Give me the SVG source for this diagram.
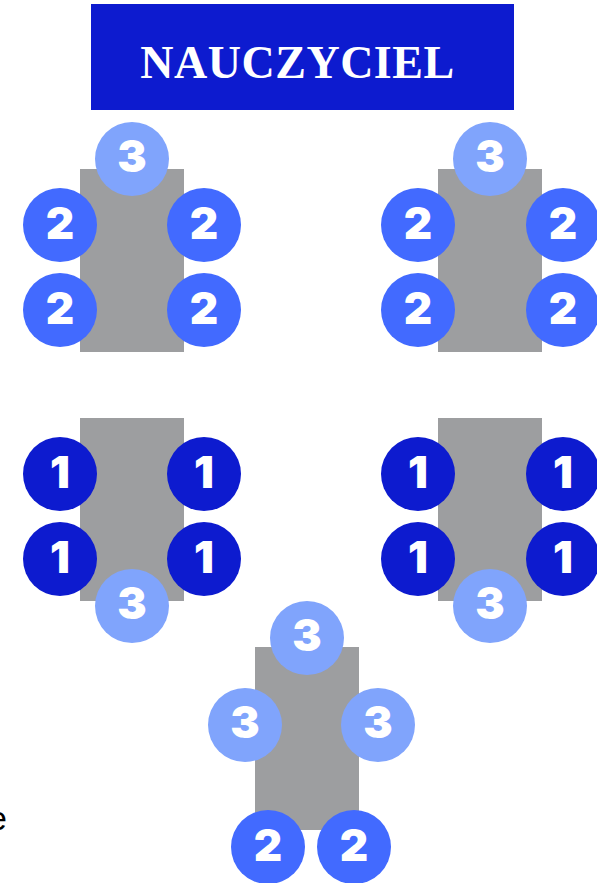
<svg xmlns="http://www.w3.org/2000/svg" width="597" height="883" viewBox="0 0 597 883">
<defs>
<style>
.tbl{fill:#9D9EA0}
.c1{fill:#0D1BCF}
.c2{fill:#426AFF}
.c3{fill:#80A4FC}
.n{font-family:Inter,"Liberation Sans",sans-serif;font-weight:900;font-size:44px;fill:#fff;text-anchor:middle}
</style>
</defs>
<rect width="597" height="883" fill="#fff"/>
<g id="header">
<rect x="91" y="4" width="423" height="106" fill="#0D1BCF"/>
<text x="297.5" y="78" font-family="'Liberation Serif',serif" font-weight="bold" font-size="46" fill="#fff" text-anchor="middle" letter-spacing="0.5">NAUCZYCIEL</text>
</g>
<g id="table-top-left">
<rect class="tbl" x="80" y="169" width="104" height="183"/>
<circle class="c3" cx="132" cy="159" r="37"/><text class="n" x="132" y="172">3</text>
<circle class="c2" cx="60" cy="225" r="37"/><text class="n" x="60" y="239">2</text>
<circle class="c2" cx="204" cy="225" r="37"/><text class="n" x="204" y="239">2</text>
<circle class="c2" cx="60" cy="310" r="37"/><text class="n" x="60" y="324">2</text>
<circle class="c2" cx="204" cy="310" r="37"/><text class="n" x="204" y="324">2</text>
</g>
<g id="table-top-right">
<rect class="tbl" x="438" y="169" width="104" height="183"/>
<circle class="c3" cx="490" cy="159" r="37"/><text class="n" x="490" y="172">3</text>
<circle class="c2" cx="418" cy="225" r="37"/><text class="n" x="418" y="239">2</text>
<circle class="c2" cx="563" cy="225" r="37"/><text class="n" x="563" y="239">2</text>
<circle class="c2" cx="418" cy="310" r="37"/><text class="n" x="418" y="324">2</text>
<circle class="c2" cx="563" cy="310" r="37"/><text class="n" x="563" y="324">2</text>
</g>
<g id="table-mid-left">
<rect class="tbl" x="80" y="418" width="104" height="183"/>
<circle class="c1" cx="60" cy="474" r="37"/><text class="n" x="60" y="488">1</text>
<circle class="c1" cx="204" cy="474" r="37"/><text class="n" x="204" y="488">1</text>
<circle class="c1" cx="60" cy="559" r="37"/><text class="n" x="60" y="573">1</text>
<circle class="c1" cx="204" cy="559" r="37"/><text class="n" x="204" y="573">1</text>
<circle class="c3" cx="132" cy="606" r="37"/><text class="n" x="132" y="619">3</text>
</g>
<g id="table-mid-right">
<rect class="tbl" x="438" y="418" width="104" height="183"/>
<circle class="c1" cx="418" cy="474" r="37"/><text class="n" x="418" y="488">1</text>
<circle class="c1" cx="563" cy="474" r="37"/><text class="n" x="563" y="488">1</text>
<circle class="c1" cx="418" cy="559" r="37"/><text class="n" x="418" y="573">1</text>
<circle class="c1" cx="563" cy="559" r="37"/><text class="n" x="563" y="573">1</text>
<circle class="c3" cx="490" cy="606" r="37"/><text class="n" x="490" y="619">3</text>
</g>
<g id="table-bottom">
<rect class="tbl" x="255" y="647" width="104" height="183"/>
<circle class="c3" cx="307" cy="638" r="37"/><text class="n" x="307" y="651">3</text>
<circle class="c3" cx="245" cy="725" r="37"/><text class="n" x="245" y="738">3</text>
<circle class="c3" cx="378" cy="725" r="37"/><text class="n" x="378" y="738">3</text>
<circle class="c2" cx="268" cy="847" r="37"/><text class="n" x="268" y="861">2</text>
<circle class="c2" cx="354" cy="847" r="37"/><text class="n" x="354" y="861">2</text>
</g>
<text x="-12" y="830" font-family="'Liberation Sans',sans-serif" font-size="34" fill="#000">e</text>
</svg>
